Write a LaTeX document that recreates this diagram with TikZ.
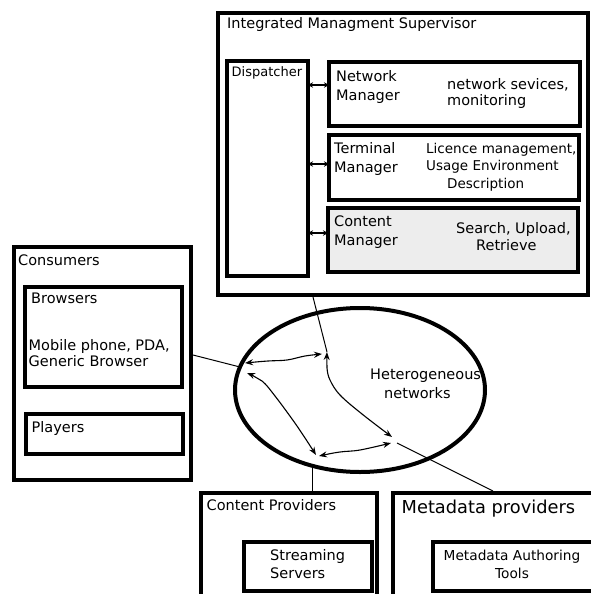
\documentclass[tikz,border=0pt]{standalone}
\usepackage{fontspec}
\setmainfont{DejaVu Sans}
\usetikzlibrary{arrows.meta,shapes.geometric}
\begin{document}
\begin{tikzpicture}[x=1pt,y=-1pt,
  box/.style={draw, line width=4pt, rectangle, inner sep=0, minimum width=#1},
  lbl/.style={inner sep=0, anchor=base west, align=left, font=\fontsize{14.5}{19}\selectfont},
  dsc/.style={inner sep=0, anchor=base west, align=left, font=\fontsize{13.5}{17.5}\selectfont},
  dbl/.style={{Stealth[length=8pt,width=6pt]}-{Stealth[length=8pt,width=6pt]}, line width=1.1pt},
  link/.style={{Stealth[length=5pt,width=5.5pt]}-{Stealth[length=5pt,width=5.5pt]}, line width=1.4pt},
  wire/.style={line width=1pt}]
\useasboundingbox (0,0) rectangle (591,594);
\begin{scope}
\clip (0,0) rectangle (591,594);
% management side
\node[box=370pt, minimum height=282pt] (sup) at (403,154) {};
\node[box=81pt, minimum height=215pt] (disp) at (267.5,168.5) {};
\node[box=251pt, minimum height=64pt, line width=4.5pt] (net) at (454.5,94) {};
\node[box=250pt, minimum height=65pt, line width=4.5pt] (term) at (454,167.5) {};
\node[box=250pt, minimum height=64pt, line width=4.5pt, fill=black!7] (cont) at (453,240) {};
\node[lbl] (supT) at (227,29) {Integrated Managment Supervisor};
\node[lbl, font=\fontsize{13}{17}\selectfont] (dispT) at (231.5,77) {Dispatcher};
\node[lbl] (netT) at (336,100) {Network\\Manager};
\node[lbl, font=\fontsize{14.5}{16}\selectfont] (netD) at (447,105) {network sevices,\\monitoring};
\node[lbl] (termT) at (334,172) {Terminal\\Manager};
\node[dsc] (termD) at (426,188) {Licence management,\\Usage Environment\\\hspace*{21pt}Description};
\node[lbl] (contT) at (334,245) {Content\\Manager};
\node[lbl, font=\fontsize{14.5}{17}\selectfont] (contD) at (456,250) {Search, Upload,\\\hspace*{20pt}Retrieve};
\coordinate (dn1) at (329,85); \coordinate (dd1) at (308,85);
\coordinate (dn2) at (329,164); \coordinate (dd2) at (308,164);
\coordinate (dn3) at (328,233); \coordinate (dd3) at (308,233);
\draw[link] (dd1) -- (dn1);
\draw[link] (dd2) -- (dn2);
\draw[link] (dd3) -- (dn3);
% consumers
\node[box=177pt, minimum height=233pt] (cons) at (102.5,363.5) {};
\node[box=157pt, minimum height=100pt, line width=3.5pt] (brow) at (103.5,337) {};
\node[box=157pt, minimum height=40pt] (play) at (104.5,434) {};
\node[lbl] (consT) at (18,265) {Consumers};
\node[lbl] (browT) at (31,303) {Browsers};
\node[lbl, font=\fontsize{14.5}{16}\selectfont] (browD) at (28.5,366) {Mobile phone, PDA,\\Generic Browser};
\node[lbl] (playT) at (31.5,432) {Players};
% network cloud
\node[draw, ellipse, line width=4pt, minimum width=250pt, minimum height=164pt, inner sep=0] (het) at (360,390) {};
\node[lbl] (hetT) at (370,398) {Heterogeneous\\\hspace*{14pt}networks};
% providers
\node[box=176pt, minimum height=127pt] (cprov) at (289,556.5) {};
\node[box=128pt, minimum height=49pt] (stream) at (308,566.5) {};
\node[box=227pt, minimum height=127pt] (mprov) at (506.5,556.5) {};
\node[box=172pt, minimum height=49pt] (auth) at (519,566.5) {};
\node[lbl] (cprovT) at (206.5,510) {Content Providers};
\node[lbl, font=\fontsize{14.5}{18}\selectfont] (streamT) at (270,578) {Streaming\\Servers};
\node[lbl, font=\fontsize{17.8}{20}\selectfont] (mprovT) at (401.5,513) {Metadata providers};
\node[lbl, align=center, anchor=base, font=\fontsize{13.7}{18}\selectfont] (authT) at (512,578) {Metadata Authoring\\Tools};
% hubs inside the network
\coordinate (a1) at (245,363);
\coordinate (a2) at (247,373);
\coordinate (b1) at (322,354);
\coordinate (b2) at (327,352);
\coordinate (c1) at (316,455);
\coordinate (c2) at (319,456);
\coordinate (d1) at (392,437);
\coordinate (d2) at (391,443);
\coordinate (d3) at (397,443);
\coordinate (e1) at (240,367);
\coordinate (f1) at (312,467);
\draw[dbl] plot[smooth, tension=0.6] coordinates {(a1) (268,361) (287,360) (305,356) (b1)};
\draw[dbl] plot[smooth, tension=0.6] coordinates {(b2) (327,368) (330,380) (340,395) (362,414) (d1)};
\draw[dbl] plot[smooth, tension=0.6] coordinates {(a2) (262,381) (275,396) (297,426) (c1)};
\draw[dbl] plot[smooth, tension=0.6] coordinates {(c2) (340,452) (360,450) (d2)};
% links to the outside parties
\draw[wire] (sup.south -| 313,0) -- (b2);
\draw[wire] (cons.east |- 0,355) -- (e1);
\draw[wire] (f1) -- (cprov.north -| f1);
\draw[wire] (d3) -- (mprov.north -| 493,0);
\end{scope}
\end{tikzpicture}
\end{document}
